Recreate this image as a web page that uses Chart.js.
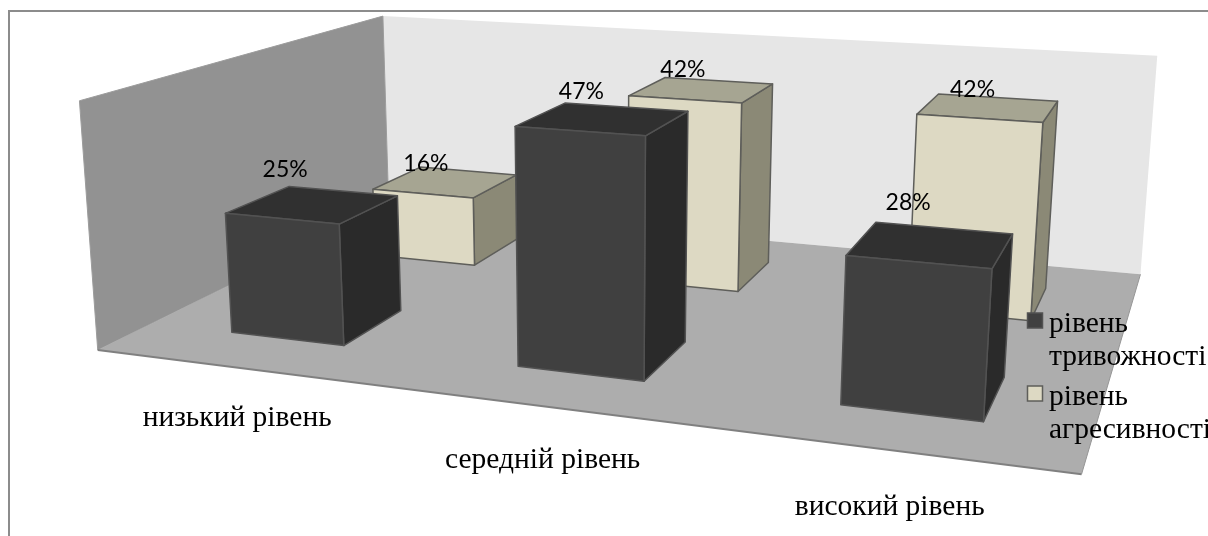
<!DOCTYPE html>
<html lang="uk"><head><meta charset="utf-8">
<style>html,body{margin:0;padding:0;background:#fff}#w{position:relative;width:1208px;height:536px;overflow:hidden}canvas{display:block}</style>
<script src="https://cdn.jsdelivr.net/npm/chart.js@4"></script></head>
<body><div id="w"><canvas id="chart" width="1208" height="536"></canvas></div>
<script>
const categories = ['низький рівень', 'середній рівень', 'високий рівень'];
const seriesNames = ['рівень тривожності', 'рівень агресивності'];
const anxiety = [25, 47, 28];
const aggression = [16, 42, 42];
const axisMax = 50;

// Camera: (u, v, h) in the unit chart cube -> screen
const CAM = { a:795.149, b:416.364, C:-21.07, c:97.725, d:41.451, e:-76.523, F:-252.702, f:349.965, g:-0.17446, i:0.322446, K:-0.034866 };
const project = (u, v, h) => {
  const w = CAM.g*u + CAM.i*v + CAM.K*h + 1;
  return [(CAM.a*u + CAM.b*v + CAM.C*h + CAM.c)/w, (CAM.d*u + CAM.e*v + CAM.F*h + CAM.f)/w];
};
const BAR_SHARE = 0.405, DEPTH_SHARE = 0.4;
const SKIN = [
  { front:'#404040', top:'#303030', side:'#2a2a2a', edge:'#525252' },
  { front:'#ddd9c3', top:'#a6a592', side:'#8b8976', edge:'#5e5e5a' }
];
const LABEL_NUDGE = [[[-28,-27],[-22,-20],[-23,-34]], [[-20,-11],[-19,-13],[-16,-11]]];

function poly(ctx, pts, fill, stroke, lw) {
  ctx.beginPath(); pts.forEach((p,k)=> k?ctx.lineTo(p[0],p[1]):ctx.moveTo(p[0],p[1])); ctx.closePath();
  if (fill) { ctx.fillStyle = fill; ctx.fill(); }
  if (stroke) { ctx.strokeStyle = stroke; ctx.lineWidth = lw||1; ctx.lineJoin='round'; ctx.stroke(); }
}
const uOf = (chart, px) => (px - chart.chartArea.left) / chart.chartArea.width;

const scene = {
  id: 'scene',
  beforeDatasetsDraw(chart) {
    const ctx = chart.ctx;
    ctx.save();
    // outer frame: top and left edges only
    ctx.strokeStyle = '#8c8c8c'; ctx.lineWidth = 2;
    ctx.beginPath(); ctx.moveTo(9,536); ctx.lineTo(9,11); ctx.lineTo(1208,11); ctx.stroke();
    const A=project(0,0,0),B=project(1,0,0),C=project(1,1,0),D=project(0,1,0),E=project(0,0,1),F=project(0,1,1),G=project(1,1,1);
    poly(ctx,[D,C,G,F],'#e6e6e6');
    poly(ctx,[A,D,F,E],'#929292','#9c9c9c',1);
    poly(ctx,[A,B,C,D],'#adadad');
    ctx.strokeStyle='#808080'; ctx.lineWidth=2;
    ctx.beginPath(); ctx.moveTo(A[0],A[1]); ctx.lineTo(B[0],B[1]); ctx.stroke();
    ctx.strokeStyle='#969696'; ctx.lineWidth=1;
    ctx.beginPath(); ctx.moveTo(B[0],B[1]); ctx.lineTo(C[0],C[1]); ctx.stroke();
    ctx.restore();
  },
  beforeDatasetDraw(chart, args) {
    const ctx = chart.ctx, j = args.index, n = chart.data.datasets.length, yS = chart.scales.y;
    const s = SKIN[j];
    ctx.save();
    args.meta.data.forEach((bar) => {
      const u0 = uOf(chart, bar.x - bar.width/2), u1 = uOf(chart, bar.x + bar.width/2);
      const vc = (j+0.5)/n, hd = DEPTH_SHARE/n/2;
      const v0 = vc-hd, v1 = vc+hd, h = yS.getDecimalForPixel(bar.y);
      const P = (u,v,t)=>project(u,v,t);
      poly(ctx,[P(u1,v0,0),P(u1,v1,0),P(u1,v1,h),P(u1,v0,h)],s.side,s.edge,1.5);
      poly(ctx,[P(u0,v0,h),P(u1,v0,h),P(u1,v1,h),P(u0,v1,h)],s.top,s.edge,1.5);
      poly(ctx,[P(u0,v0,0),P(u1,v0,0),P(u1,v0,h),P(u0,v0,h)],s.front,s.edge,1.5);
    });
    ctx.restore();
    return false;
  },
  afterDatasetsDraw(chart) {
    const ctx = chart.ctx, xS = chart.scales.x, n = chart.data.datasets.length;
    ctx.save();
    // data labels
    ctx.font = '23px Lato'; ctx.fillStyle = '#000'; ctx.textAlign='center'; ctx.textBaseline='alphabetic';
    chart.data.datasets.forEach((ds,j)=>{
      chart.getDatasetMeta(j).data.forEach((bar,i)=>{
        const h = chart.scales.y.getDecimalForPixel(bar.y);
        const p = project(uOf(chart,bar.x),(j+0.5)/n,h);
        ctx.fillText(ds.data[i]+'%', p[0]+LABEL_NUDGE[j][i][0], p[1]+LABEL_NUDGE[j][i][1]);
      });
    });
    // category labels on the front floor edge
    ctx.font = '29.5px "Liberation Serif"';
    categories.forEach((label,i)=>{
      const p = project(uOf(chart,xS.getPixelForValue(i)),0,0);
      ctx.fillText(label,p[0],p[1]+58+i*3.5);
    });
    // legend
    ctx.textAlign='left';
    chart.data.datasets.forEach((ds,j)=>{
      const y0 = 313 + j*73;
      ctx.fillStyle = ds.backgroundColor; ctx.strokeStyle = SKIN[j].edge; ctx.lineWidth=1.5;
      ctx.fillRect(1027.5,y0,15,15); ctx.strokeRect(1027.5,y0,15,15);
      ctx.fillStyle='#000';
      ds.label.split(' ').forEach((w,k)=>ctx.fillText(w,1049,y0+19+k*33));
    });
    ctx.restore();
  }
};

new Chart(document.getElementById('chart'), {
  type: 'bar',
  data: { labels: categories, datasets: [
    { label: seriesNames[0], data: anxiety, backgroundColor: SKIN[0].front, grouped:false, barPercentage:BAR_SHARE, categoryPercentage:1 },
    { label: seriesNames[1], data: aggression, backgroundColor: SKIN[1].front, grouped:false, barPercentage:BAR_SHARE, categoryPercentage:1 }
  ]},
  options: {
    responsive:false, animation:false,
    layout:{padding:20},
    plugins:{ legend:{display:false}, tooltip:{enabled:false} },
    scales:{ x:{display:false}, y:{display:false, min:0, max:axisMax} }
  },
  plugins:[scene]
});
</script></body></html>
